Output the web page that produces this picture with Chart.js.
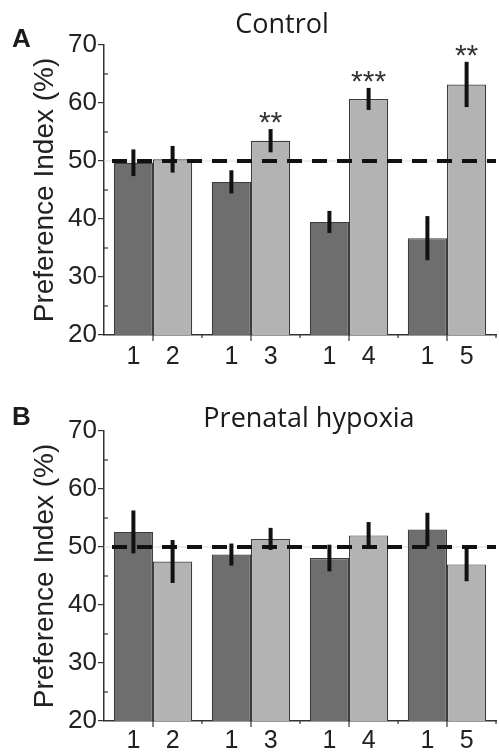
<!DOCTYPE html>
<html>
<head>
<meta charset="utf-8">
<script src="https://cdn.jsdelivr.net/npm/chart.js@4.4.1/dist/chart.umd.min.js"></script>
<style>
  html, body { margin: 0; padding: 0; background: #fff; }
  canvas { display: block; }
</style>
</head>
<body>
<canvas id="chartA" width="499" height="376"></canvas>
<canvas id="chartB" width="499" height="377"></canvas>
<script>
// groups: object 1 vs object 2..5
const groups = ['1-2', '1-3', '1-4', '1-5'];
const pairLabels = [['1', '2'], ['1', '3'], ['1', '4'], ['1', '5']];
const yTicks = [20, 30, 40, 50, 60, 70];
const chanceLevel = 50;

const controlRef = [49.7, 46.4, 39.5, 36.7];
const controlRefErr = [2.3, 2.0, 1.9, 3.8];
const controlTest = [50.3, 53.5, 60.7, 63.2];
const controlTestErr = [2.3, 2.0, 1.9, 3.9];
const controlStars = ['', '**', '***', '**'];

const hypoxiaRef = [52.6, 48.7, 48.1, 53.0];
const hypoxiaRefErr = [3.7, 1.9, 2.3, 2.9];
const hypoxiaTest = [47.5, 51.4, 52.0, 47.0];
const hypoxiaTestErr = [3.7, 1.9, 2.3, 2.9];
const hypoxiaStars = ['', '', '', ''];

const sans = '"Liberation Sans", Arial, sans-serif';
const titleFont = '"Open Sans", "Noto Sans", sans-serif';

const decor = {
  id: 'decor',
  beforeDatasetsDraw(chart, args, o) {
    const { ctx, chartArea: a, scales: { y } } = chart;
    const y50 = y.getPixelForValue(chanceLevel);
    ctx.save();
    ctx.strokeStyle = '#dcdcdc';
    ctx.lineWidth = 1;
    ctx.beginPath();
    ctx.moveTo(a.left, y50);
    ctx.lineTo(a.right, y50);
    ctx.stroke();
    ctx.restore();
  },
  afterDatasetsDraw(chart, args, o) {
    const { ctx, chartArea: a, scales: { x, y } } = chart;
    ctx.save();

    // chance level
    const y50 = y.getPixelForValue(chanceLevel);
    ctx.strokeStyle = '#111';
    ctx.lineWidth = 4;
    ctx.setLineDash([15, 10]);
    ctx.beginPath();
    ctx.moveTo(a.left + 8, y50);
    ctx.lineTo(a.right, y50);
    ctx.stroke();
    ctx.setLineDash([]);

    // error bars
    o.errors.forEach((errs, di) => {
      const meta = chart.getDatasetMeta(di);
      const vals = chart.data.datasets[di].data;
      meta.data.forEach((bar, i) => {
        ctx.beginPath();
        ctx.moveTo(bar.x, y.getPixelForValue(vals[i] + errs[i]));
        ctx.lineTo(bar.x, y.getPixelForValue(vals[i] - errs[i]));
        ctx.stroke();
      });
    });

    // significance stars above the test bar
    const testMeta = chart.getDatasetMeta(1);
    const testVals = chart.data.datasets[1].data;
    ctx.fillStyle = '#333';
    ctx.font = '30px ' + sans;
    ctx.textAlign = 'center';
    ctx.textBaseline = 'alphabetic';
    o.stars.forEach((s, i) => {
      if (!s) return;
      const top = y.getPixelForValue(testVals[i] + o.errors[1][i]);
      ctx.fillText(s, testMeta.data[i].x, top + 3);
    });

    // x axis ticks
    ctx.strokeStyle = '#333';
    ctx.lineWidth = 1.2;
    const step = (a.right - a.left) / groups.length;
    groups.forEach((g, i) => {
      const cx = x.getPixelForValue(i);
      ctx.beginPath();
      ctx.moveTo(cx, a.bottom);
      ctx.lineTo(cx, a.bottom + 6);
      ctx.stroke();
      const bx = cx + step / 2;
      ctx.beginPath();
      ctx.moveTo(bx, a.bottom);
      ctx.lineTo(bx, a.bottom + 3);
      ctx.stroke();
    });
    // y minor ticks, inside
    for (let v = yTicks[0] + 5; v < yTicks[yTicks.length - 1]; v += 10) {
      const py = y.getPixelForValue(v);
      ctx.beginPath();
      ctx.moveTo(a.left, py);
      ctx.lineTo(a.left + 4, py);
      ctx.stroke();
    }

    // x labels under each bar
    ctx.fillStyle = '#222';
    ctx.font = '25px ' + sans;
    [0, 1].forEach(di => {
      chart.getDatasetMeta(di).data.forEach((bar, i) => {
        ctx.fillText(pairLabels[i][di], bar.x, a.bottom + o.labelDy);
      });
    });

    // title and panel letter
    ctx.fillStyle = '#1a1a1a';
    ctx.font = '27px ' + titleFont;
    ctx.fillText(o.title, o.titleX, o.titleY);
    ctx.textAlign = 'left';
    ctx.font = 'bold 26px ' + sans;
    ctx.fillText(o.panel, 12, o.panelY);
    ctx.restore();
  }
};

function makeChart(id, ref, test, refErr, testErr, stars, extra) {
  return new Chart(document.getElementById(id), {
    type: 'bar',
    data: {
      labels: groups,
      datasets: [
        { data: ref, backgroundColor: '#6e6e6e', borderColor: '#3c3c3c', borderWidth: 1.2,
          barPercentage: 1, categoryPercentage: 0.8 },
        { data: test, backgroundColor: '#b3b3b3', borderColor: '#3c3c3c', borderWidth: 1.2,
          barPercentage: 1, categoryPercentage: 0.8 }
      ]
    },
    options: {
      responsive: false,
      animation: false,
      layout: { padding: { left: 0, right: 3, top: extra.top, bottom: 0 } },
      plugins: {
        legend: { display: false },
        tooltip: { enabled: false },
        decor: Object.assign({ errors: [refErr, testErr], stars }, extra)
      },
      scales: {
        x: {
          grid: { display: false },
          border: { color: '#333', width: 1.5 },
          ticks: { display: false },
          afterFit: s => { s.height = extra.xHeight; }
        },
        y: {
          min: 20, max: 70,
          afterBuildTicks: s => { s.ticks = yTicks.map(v => ({ value: v })); },
          grid: { drawOnChartArea: false, tickLength: 6, color: '#333', lineWidth: 1.2 },
          border: { color: '#333', width: 1.5 },
          ticks: { padding: 1, color: '#222', font: { family: sans, size: 26 } },
          title: {
            display: true, text: 'Preference Index (%)', color: '#222',
            font: { family: sans, size: 28 }, padding: { top: 28, bottom: 0 }
          },
          afterFit: s => { s.width = 104; }
        }
      }
    },
    plugins: [decor]
  });
}

makeChart('chartA', controlRef, controlTest, controlRefErr, controlTestErr, controlStars,
  { top: 45, xHeight: 41, labelDy: 29, title: 'Control', titleX: 282, titleY: 33, panel: 'A', panelY: 47 });
makeChart('chartB', hypoxiaRef, hypoxiaTest, hypoxiaRefErr, hypoxiaTestErr, hypoxiaStars,
  { top: 55, xHeight: 32, labelDy: 27, title: 'Prenatal hypoxia', titleX: 309, titleY: 51, panel: 'B', panelY: 49 });
</script>
</body>
</html>
